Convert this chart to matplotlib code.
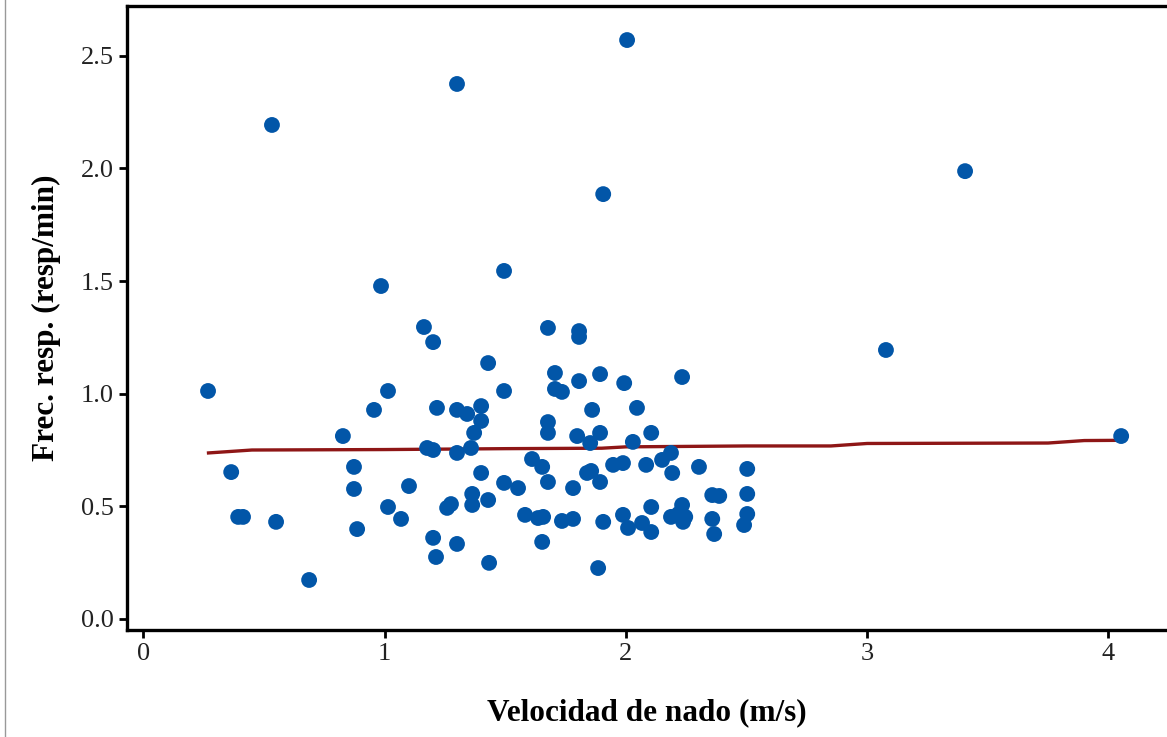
import numpy as np
import matplotlib.pyplot as plt
from matplotlib.lines import Line2D

# swim speed (m/s) and respiratory frequency (resp/min)
velocidad = [0.268, 0.533, 0.364, 0.393, 0.413, 0.550, 0.687, 0.827, 0.873, 0.873,
             0.886, 0.956, 0.985, 1.014, 1.014, 1.068, 1.101, 1.163, 1.176, 1.201,
             1.201, 1.201, 1.213, 1.217, 1.259, 1.275, 1.300, 1.300, 1.300, 1.300,
             1.342, 1.358, 1.371, 1.363, 1.363, 1.400, 1.400, 1.400, 1.429, 1.429,
             1.433, 1.495, 1.495, 1.495, 1.553, 1.582, 1.611, 1.636, 1.657, 1.653,
             1.653, 1.677, 1.677, 1.677, 1.677, 1.706, 1.706, 1.735, 1.735, 1.781,
             1.781, 1.798, 1.806, 1.806, 1.806, 1.839, 1.856, 1.852, 1.860, 1.885,
             1.893, 1.893, 1.893, 1.906, 1.906, 1.947, 1.988, 1.988, 1.993, 2.005,
             2.009, 2.029, 2.046, 2.067, 2.084, 2.105, 2.105, 2.105, 2.150, 2.187,
             2.187, 2.192, 2.233, 2.233, 2.237, 2.246, 2.218, 2.303, 2.358, 2.387,
             2.358, 2.366, 2.503, 2.503, 2.503, 2.490, 3.078, 3.406, 4.053]
frec_resp = [1.012, 2.193, 0.652, 0.453, 0.453, 0.431, 0.173, 0.812, 0.675, 0.577,
             0.399, 0.928, 1.478, 1.012, 0.497, 0.444, 0.590, 1.296, 0.759, 0.750,
             1.229, 0.360, 0.275, 0.937, 0.493, 0.510, 0.928, 2.375, 0.737, 0.333,
             0.910, 0.759, 0.826, 0.555, 0.506, 0.945, 0.879, 0.648, 1.136, 0.528,
             0.249, 1.545, 1.012, 0.604, 0.581, 0.462, 0.710, 0.448, 0.453, 0.675,
             0.342, 1.292, 0.874, 0.826, 0.608, 1.092, 1.021, 1.008, 0.435, 0.581,
             0.444, 0.812, 1.278, 1.252, 1.056, 0.648, 0.657, 0.781, 0.928, 0.226,
             1.087, 0.826, 0.608, 0.431, 1.886, 0.684, 0.692, 0.462, 1.047, 2.570,
             0.404, 0.786, 0.937, 0.426, 0.684, 0.826, 0.497, 0.386, 0.706, 0.737,
             0.453, 0.648, 1.074, 0.506, 0.431, 0.453, 0.466, 0.675, 0.550, 0.546,
             0.444, 0.377, 0.666, 0.555, 0.466, 0.417, 1.194, 1.988, 0.812]

# smoothed trend line
tend_x = [0.27, 0.45, 1.0, 1.5, 1.9, 2.0, 2.5, 2.85, 3.0, 3.75, 3.9, 4.05]
tend_y = [0.737, 0.750, 0.752, 0.756, 0.758, 0.764, 0.768, 0.768, 0.779, 0.781, 0.792, 0.793]

plt.rcParams['font.family'] = ['Liberation Serif', 'DejaVu Serif']

fig = plt.figure(figsize=(11.67, 7.37), dpi=100)
ax = fig.add_axes([0.1086, 0.1452, 0.8914, 0.8460])

ax.scatter(velocidad, frec_resp, s=130, color='#0256A8', edgecolors='none', zorder=3)
ax.plot(tend_x, tend_y, color='#8E1616', linewidth=2.4, zorder=2)

ax.set_xlim(-0.069, 4.243)
ax.set_ylim(-0.049, 2.719)
ax.set_xticks([0, 1, 2, 3, 4])
ax.set_xticklabels(['0', '1', '2', '3', '4'])
ax.set_yticks([0.0, 0.5, 1.0, 1.5, 2.0, 2.5])
ax.set_yticklabels(['0.0', '0.5', '1.0', '1.5', '2.0', '2.5'])
ax.tick_params(labelsize=19, width=2, length=6, color='black', labelcolor='#222222')

for side in ['left', 'bottom', 'top']:
    ax.spines[side].set_linewidth(2.4)
ax.spines['right'].set_visible(False)

ax.set_xlabel('Velocidad de nado (m/s)', fontsize=22.5, fontweight='bold', labelpad=24)
ax.set_ylabel('Frec. resp. (resp/min)', fontsize=22.5, fontweight='bold', labelpad=14)

# thin frame line on the left edge of the picture
fig.add_artist(Line2D([5 / 1167, 5 / 1167], [0, 1], transform=fig.transFigure,
                      color='#999999', linewidth=1))

fig.savefig('out.png', dpi=100)
